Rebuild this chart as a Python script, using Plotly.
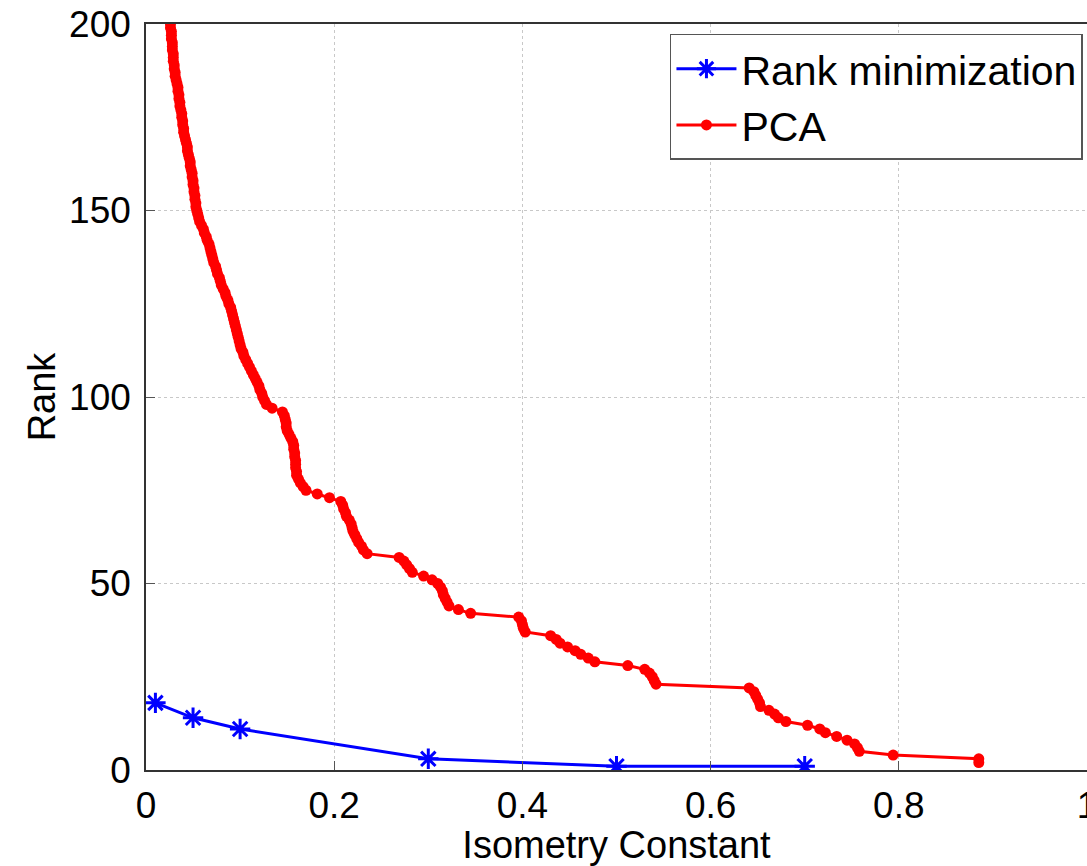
import plotly.graph_objects as go

# Rank minimization series
rm_x = [0.01, 0.05, 0.10, 0.30, 0.50, 0.70]
rm_y = [18, 14, 11, 3, 1, 1]

# PCA series: rank 200 down to 2, with the isometry constant
pca_y = list(range(200, 1, -1))
pca_x = [
    0.026, 0.026, 0.027, 0.027, 0.027, 0.028, 0.028, 0.028, 0.029, 0.029,   # 200-191
    0.029, 0.030, 0.030, 0.031, 0.031, 0.032, 0.033, 0.034, 0.034, 0.035,   # 190-181
    0.035, 0.036, 0.036, 0.037, 0.038, 0.038, 0.039, 0.039, 0.040, 0.040,   # 180-171
    0.041, 0.042, 0.043, 0.044, 0.044, 0.045, 0.046, 0.047, 0.047, 0.048,   # 170-161
    0.049, 0.049, 0.050, 0.050, 0.051, 0.051, 0.052, 0.052, 0.053, 0.053,   # 160-151
    0.054, 0.055, 0.056, 0.057, 0.059, 0.061, 0.062, 0.064, 0.065, 0.067,   # 150-141
    0.068, 0.069, 0.070, 0.071, 0.072, 0.074, 0.075, 0.076, 0.078, 0.079,   # 140-131
    0.080, 0.082, 0.084, 0.085, 0.087, 0.088, 0.090, 0.091, 0.092, 0.093,   # 130-121
    0.094, 0.095, 0.096, 0.097, 0.098, 0.099, 0.100, 0.101, 0.103, 0.104,   # 120-111
    0.106, 0.108, 0.110, 0.112, 0.114, 0.116, 0.118, 0.120, 0.121, 0.123,   # 110-101
    0.124, 0.126, 0.128, 0.134, 0.145, 0.147, 0.148, 0.149, 0.149, 0.150,   # 100-91
    0.152, 0.154, 0.156, 0.157, 0.157, 0.158, 0.158, 0.159, 0.159, 0.159,   # 90-81
    0.160, 0.160, 0.162, 0.164, 0.167, 0.170, 0.182, 0.195, 0.207, 0.209,   # 80-71
    0.210, 0.212, 0.213, 0.216, 0.218, 0.219, 0.220, 0.222, 0.224, 0.226,   # 70-61
    0.229, 0.231, 0.235, 0.269, 0.274, 0.277, 0.280, 0.283, 0.295, 0.304,   # 60-51
    0.310, 0.313, 0.315, 0.316, 0.318, 0.320, 0.322, 0.332, 0.345, 0.396,   # 50-41
    0.399, 0.400, 0.401, 0.403, 0.430, 0.436, 0.440, 0.448, 0.456, 0.462,   # 40-31
    0.470, 0.477, 0.512, 0.530, 0.535, 0.538, 0.540, 0.542, 0.641, 0.646,   # 30-21
    0.648, 0.650, 0.652, 0.653, 0.662, 0.668, 0.672, 0.680, 0.703, 0.716,   # 20-11
    0.722, 0.734, 0.745, 0.753, 0.756, 0.758, 0.794, 0.885, 0.885,          # 10-2
]

x_ticks = [0, 0.2, 0.4, 0.6, 0.8, 1]
x_tick_text = ["0", "0.2", "0.4", "0.6", "0.8", "1"]
y_ticks = [0, 50, 100, 150, 200]

FONT = "Liberation Sans, Arial, Helvetica, sans-serif"

fig = go.Figure()
fig.add_trace(go.Scatter(
    x=rm_x, y=rm_y, mode="lines+markers", name="Rank minimization",
    line=dict(color="#0000FF", width=3),
    marker=dict(symbol="asterisk", size=17, color="#0000FF",
                line=dict(color="#0000FF", width=3)),
))
fig.add_trace(go.Scatter(
    x=pca_x, y=pca_y, mode="lines+markers", name="PCA",
    line=dict(color="#FF0000", width=3),
    marker=dict(symbol="circle", size=11, color="#FF0000"),
))

axis_common = dict(
    showline=True, linecolor="#333333", linewidth=1.5, mirror=True,
    ticks="inside", ticklen=9, tickcolor="#555555", tickwidth=1,
    showgrid=True, gridcolor="#c8c8c8", griddash="dot", gridwidth=1,
    zeroline=False,
    tickfont=dict(family=FONT, size=37, color="black"),
)

fig.update_xaxes(
    range=[0, 1], tickvals=x_ticks, ticktext=x_tick_text,
    title=dict(text="Isometry Constant", font=dict(family=FONT, size=38, color="black"), standoff=0),
    ticklabelstandoff=2, ticklabeloverflow="allow",
    **axis_common,
)
fig.update_yaxes(
    range=[0, 200], tickvals=y_ticks,
    title=dict(text="Rank", font=dict(family=FONT, size=38, color="black"), standoff=2),
    ticklabelstandoff=6,
    **axis_common,
)

fig.update_layout(
    width=1087, height=866,
    margin=dict(l=146, r=0, t=24, b=96, autoexpand=False),
    plot_bgcolor="white", paper_bgcolor="white",
    showlegend=True,
    legend=dict(
        x=0.9957, y=0.9866, xanchor="right", yanchor="top",
        bgcolor="white", bordercolor="#555555", borderwidth=1.5,
        font=dict(family=FONT, size=41, color="black"),
        itemwidth=60, tracegroupgap=0,
    ),
)

fig.write_html("out.html")
